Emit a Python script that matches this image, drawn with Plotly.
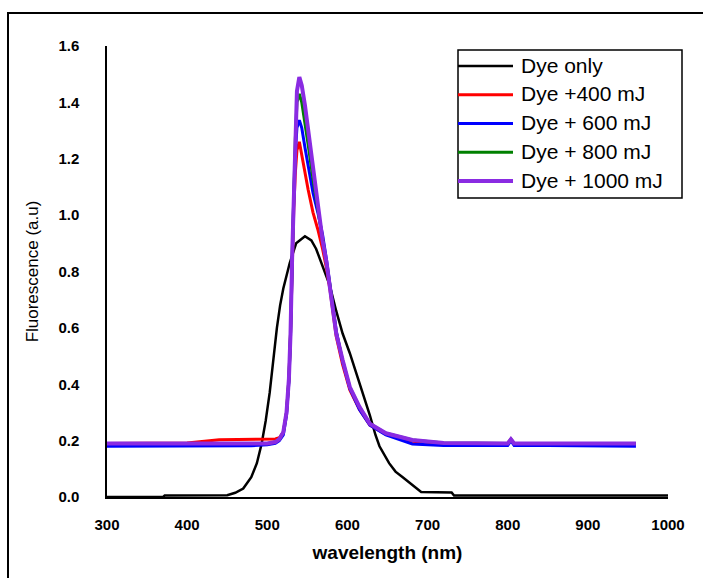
import plotly.graph_objects as go

# Emission spectra of the dye before and after laser exposure
names = ["Dye only", "Dye +400 mJ", "Dye + 600 mJ", "Dye + 800 mJ", "Dye + 1000 mJ"]
colors = ["#000000", "#FF0000", "#0000FF", "#008000", "#8A2BE2"]
widths = [2.5, 3, 3, 3, 4]

wl_dye = [300, 370, 372, 450, 460, 470, 480, 487, 493, 498, 503, 508, 512, 516, 520,
          528, 536, 547, 555, 561, 570, 578, 586, 594, 603, 611, 620, 628, 635, 640,
          652, 660, 669, 680, 690, 692, 730, 733, 1000]
dye_only = [0.0, 0.0, 0.005, 0.006, 0.015, 0.03, 0.07, 0.12, 0.19, 0.27, 0.37, 0.50, 0.60,
            0.68, 0.74, 0.83, 0.90, 0.925, 0.91, 0.88, 0.81, 0.75, 0.66, 0.58, 0.51, 0.44,
            0.36, 0.29, 0.22, 0.18, 0.12, 0.09, 0.07, 0.045, 0.025, 0.018, 0.016, 0.005, 0.005]

wl_exp = [300, 350, 400, 440, 480, 500, 510, 515, 520, 524, 527, 529, 531, 533, 535, 537,
          540, 543, 547, 551, 557, 563, 569, 574, 578, 582, 586, 594, 603, 615, 628, 648,
          681, 720, 780, 800, 804, 808, 850, 900, 960]
dye_400 = [0.19, 0.19, 0.192, 0.203, 0.205, 0.205, 0.206, 0.21, 0.23, 0.30, 0.42, 0.58,
           0.85, 1.02, 1.15, 1.23, 1.26, 1.21, 1.15, 1.09, 1.01, 0.95, 0.88, 0.81, 0.74,
           0.65, 0.57, 0.47, 0.38, 0.31, 0.255, 0.222, 0.198, 0.19, 0.19, 0.19, 0.205,
           0.19, 0.19, 0.19, 0.188]
dye_600 = [0.18, 0.18, 0.18, 0.18, 0.182, 0.185, 0.19, 0.20, 0.22, 0.29, 0.41, 0.57,
           0.84, 1.06, 1.22, 1.31, 1.337, 1.31, 1.24, 1.17, 1.08, 1.01, 0.93, 0.84, 0.76,
           0.67, 0.59, 0.48, 0.385, 0.31, 0.255, 0.22, 0.188, 0.183, 0.183, 0.183, 0.20,
           0.183, 0.183, 0.182, 0.18]
dye_800 = [0.19, 0.19, 0.19, 0.19, 0.19, 0.19, 0.195, 0.205, 0.23, 0.30, 0.42, 0.58,
           0.85, 1.08, 1.27, 1.40, 1.43, 1.40, 1.33, 1.25, 1.13, 1.02, 0.91, 0.83, 0.755,
           0.665, 0.585, 0.485, 0.39, 0.32, 0.26, 0.226, 0.202, 0.192, 0.19, 0.19, 0.205,
           0.19, 0.19, 0.19, 0.19]
dye_1000 = [0.19, 0.19, 0.19, 0.19, 0.19, 0.19, 0.195, 0.205, 0.23, 0.30, 0.42, 0.58,
            0.85, 1.08, 1.28, 1.44, 1.49, 1.46, 1.39, 1.30, 1.16, 1.03, 0.91, 0.83, 0.75,
            0.663, 0.58, 0.486, 0.39, 0.32, 0.26, 0.226, 0.202, 0.192, 0.19, 0.19, 0.205,
            0.19, 0.19, 0.19, 0.19]

x_ticks = [300, 400, 500, 600, 700, 800, 900, 1000]
y_ticks = [0.0, 0.2, 0.4, 0.6, 0.8, 1.0, 1.2, 1.4, 1.6]

series = [(wl_dye, dye_only), (wl_exp, dye_400), (wl_exp, dye_600),
          (wl_exp, dye_800), (wl_exp, dye_1000)]

fig = go.Figure()
for (xs, ys), name, color, w in zip(series, names, colors, widths):
    fig.add_trace(go.Scatter(
        x=xs, y=ys, name=name, mode="lines", showlegend=False,
        line=dict(color=color, width=w),
    ))

font_family = "Arial, Liberation Sans, sans-serif"
L, R, T, B = 107, 35, 46, 81
W, H = 703, 578
pw, ph = W - L - R, H - T - B


def px_x(p):
    return (p - L) / pw


def px_y(p):
    return (H - B - p) / ph


fig.update_layout(
    width=W, height=H,
    margin=dict(l=L, r=R, t=T, b=B),
    paper_bgcolor="white", plot_bgcolor="white",
    font=dict(family=font_family, color="black"),
    showlegend=False,
    xaxis=dict(
        range=[300, 1000], tickvals=x_ticks, ticktext=[str(v) for v in x_ticks],
        showgrid=False, zeroline=False, showline=True, linecolor="black", linewidth=1.5,
        ticks="", ticklabelstandoff=13,
        tickfont=dict(size=15, family=font_family, color="black", weight="bold"),
        title=dict(text="<b>wavelength (nm)</b>", font=dict(size=19, family=font_family), standoff=14),
    ),
    yaxis=dict(
        range=[0, 1.6], tickvals=y_ticks, tickformat=".1f",
        showgrid=False, zeroline=False, showline=True, linecolor="black", linewidth=1.5,
        ticks="", ticklabelstandoff=23,
        tickfont=dict(size=15, family=font_family, color="black", weight="bold"),
        title=dict(text="Fluorescence (a.u)", font=dict(size=17, family=font_family), standoff=15),
    ),
)

# legend box with line samples and labels
box_l, box_r, box_t, box_b = 458, 682, 50, 198
fig.add_shape(
    type="rect", xref="paper", yref="paper",
    x0=px_x(box_l), x1=px_x(box_r), y0=px_y(box_b), y1=px_y(box_t),
    line=dict(color="black", width=1.5), fillcolor="white", layer="above",
)
for i, (name, color, w) in enumerate(zip(names, colors, widths)):
    row = 66 + 28.75 * i
    fig.add_shape(
        type="line", xref="paper", yref="paper",
        x0=px_x(box_l), x1=px_x(513), y0=px_y(row), y1=px_y(row),
        line=dict(color=color, width=w), layer="above",
    )
    fig.add_annotation(
        xref="paper", yref="paper", x=px_x(519), y=px_y(row - 1),
        xanchor="left", yanchor="middle", showarrow=False, text=name,
        font=dict(size=21, family=font_family, color="black"),
    )

# frame around the whole chart
fig.add_shape(
    type="rect", xref="paper", yref="paper",
    x0=px_x(8), x1=px_x(W + 10), y0=px_y(H + 10), y1=px_y(13),
    line=dict(color="black", width=2), fillcolor="rgba(0,0,0,0)", layer="above",
)

fig.write_html("out.html")
